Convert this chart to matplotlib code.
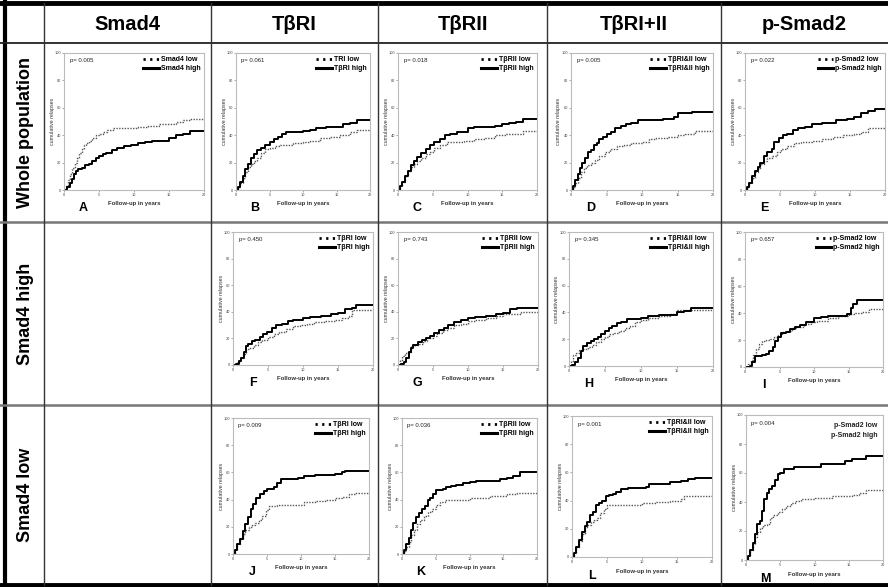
import matplotlib
matplotlib.use("Agg")
import matplotlib.pyplot as plt
from matplotlib.lines import Line2D

plt.rcParams['font.family'] = ['Liberation Sans', 'DejaVu Sans']

W, H = 888, 587

# table headers
col_headers = ["Smad4", "T\u03b2RI", "T\u03b2RII", "T\u03b2RI+II", "p-Smad2"]
row_headers = ["Whole population", "Smad4 high", "Smad4 low"]

# panel letters, p values and legend labels
letters = ["A", "B", "C", "D", "E", "F", "G", "H", "I", "J", "K", "L", "M"]
p_values = ["0.005", "0.061", "0.018", "0.005", "0.022",
            "0.450", "0.743", "0.345", "0.657",
            "0.009", "0.036", "0.001", "0.004"]
low_labels = ["Smad4 low", "TRI low", "T\u03b2RII low", "T\u03b2RI&II low", "p-Smad2 low",
              "T\u03b2RI low", "T\u03b2RII low", "T\u03b2RI&II low", "p-Smad2 low",
              "T\u03b2RI low", "T\u03b2RII low", "T\u03b2RI&II low", "p-Smad2 low"]
high_labels = ["Smad4 high", "T\u03b2RI high", "T\u03b2RII high", "T\u03b2RI&II high", "p-Smad2 high",
               "T\u03b2RI high", "T\u03b2RII high", "T\u03b2RI&II high", "p-Smad2 high",
               "T\u03b2RI high", "T\u03b2RII high", "T\u03b2RI&II high", "p-Smad2 high"]

# cumulative relapse curves (years, %)
A_low_t = [0, 0.3, 0.6, 0.9, 1.2, 1.5, 1.8, 2.1, 2.5, 2.8, 3.2, 3.6, 4.0, 4.5, 5.0, 5.6, 6.2, 7.0, 8.0, 9.5, 10.5, 12.0, 13.5, 15.0, 16.0, 17.0, 18.0, 20.0]
A_low_v = [0, 3, 7, 12, 16, 20, 23, 27, 30, 33, 34, 36, 38, 40, 41, 42, 44, 45, 45, 45, 46, 47, 48, 48, 50, 51, 52, 52]
A_high_t = [0, 0.4, 0.8, 1.1, 1.4, 1.7, 2.0, 2.5, 3.0, 3.5, 4.0, 4.5, 5.0, 5.5, 6.0, 6.8, 7.5, 8.5, 9.5, 10.5, 11.5, 12.5, 14.0, 15.0, 16.0, 17.0, 18.0, 20.0]
A_high_v = [0, 2, 5, 8, 12, 14, 15, 16, 18, 19, 21, 23, 25, 26, 27, 29, 31, 32, 33, 34, 35, 36, 36, 38, 40, 41, 43, 43]

B_low_t = [0, 0.3, 0.6, 1.0, 1.4, 1.8, 2.2, 2.7, 3.2, 3.8, 4.4, 5.0, 5.8, 6.6, 7.5, 8.5, 10, 11, 12.5, 14, 15.5, 17, 18, 20]
B_low_v = [0, 2, 5, 9, 13, 17, 19, 21, 23, 27, 30, 31, 32, 33, 33, 34, 35, 36, 38, 39, 40, 42, 44, 44]
B_high_t = [0, 0.3, 0.6, 1.0, 1.4, 1.8, 2.2, 2.7, 3.2, 3.8, 4.4, 5.0, 5.6, 6.2, 6.8, 7.5, 8.5, 10, 11, 12, 13.5, 15, 16, 17, 18, 20]
B_high_v = [0, 2, 6, 10, 15, 19, 23, 26, 29, 31, 33, 35, 37, 39, 41, 42, 42, 43, 44, 45, 46, 46, 48, 49, 51, 51]

C_low_t = [0, 0.3, 0.6, 1.0, 1.4, 1.8, 2.3, 2.8, 3.3, 4.0, 4.6, 5.2, 6.0, 7.0, 8.0, 9.5, 11, 12.5, 14, 15.5, 17, 18, 20]
C_low_v = [0, 3, 6, 10, 14, 17, 19, 21, 23, 26, 28, 31, 33, 35, 35, 36, 37, 38, 40, 41, 41, 43, 43]
C_high_t = [0, 0.3, 0.6, 1.0, 1.4, 1.8, 2.3, 2.8, 3.3, 4.0, 4.6, 5.2, 6.0, 6.8, 7.5, 8.5, 10, 11, 12.5, 14, 15, 16, 17, 18, 20]
C_high_v = [0, 3, 6, 10, 14, 18, 21, 24, 27, 30, 33, 35, 37, 40, 41, 42, 45, 46, 46, 47, 48, 49, 50, 52, 52]

D_low_t = [0, 0.3, 0.6, 1.0, 1.4, 1.8, 2.2, 2.8, 3.4, 4.0, 4.8, 5.5, 6.5, 7.5, 8.5, 10, 11, 12, 13.5, 15, 16, 17.5, 20]
D_low_v = [0, 2, 5, 9, 13, 16, 18, 20, 22, 25, 28, 30, 32, 33, 34, 35, 37, 38, 39, 40, 41, 43, 43]
D_high_t = [0, 0.3, 0.6, 1.0, 1.3, 1.6, 2.0, 2.4, 2.8, 3.2, 3.6, 4.0, 4.5, 5.0, 5.6, 6.2, 7.0, 7.8, 8.5, 9.5, 11, 13, 14.5, 15, 17, 20]
D_high_v = [0, 3, 7, 12, 16, 20, 23, 28, 29, 33, 34, 37, 39, 41, 42, 45, 47, 48, 49, 51, 51, 52, 53, 56, 57, 57]

E_low_t = [0, 0.3, 0.6, 1.0, 1.4, 1.8, 2.2, 2.7, 3.2, 3.8, 4.5, 5.2, 6.0, 7.0, 8.0, 9.5, 11, 12.5, 14, 15.5, 16.5, 17.5, 20]
E_low_v = [0, 2, 5, 9, 13, 16, 19, 21, 23, 25, 28, 30, 32, 34, 35, 36, 37, 39, 40, 41, 42, 45, 45]
E_high_t = [0, 0.3, 0.6, 1.0, 1.4, 1.8, 2.2, 2.7, 3.2, 3.8, 4.2, 4.8, 5.4, 6.0, 6.8, 7.5, 8.5, 9.5, 11, 13, 14.5, 15.5, 16.5, 17.5, 18.5, 20]
E_high_v = [0, 2, 5, 10, 14, 17, 20, 25, 28, 30, 35, 38, 40, 41, 44, 45, 46, 48, 49, 51, 52, 53, 56, 58, 59, 59]

F_low_t = [0, 0.5, 1.0, 1.4, 1.8, 2.3, 3.0, 3.6, 4.2, 5.0, 5.8, 6.5, 7.5, 8.5, 9.5, 10.5, 11.5, 13, 14.5, 15.5, 16.5, 17, 20]
F_low_v = [0, 2, 5, 8, 12, 13, 15, 17, 19, 21, 23, 25, 27, 29, 30, 31, 32, 33, 34, 35, 37, 41, 41]
F_high_t = [0, 0.4, 0.8, 1.2, 1.5, 1.8, 2.2, 2.7, 3.2, 3.8, 4.3, 4.8, 5.5, 6.2, 7.0, 7.8, 8.5, 10, 11, 12.5, 14, 15, 16, 17, 17.5, 20]
F_high_v = [0, 1, 3, 5, 10, 14, 16, 18, 19, 21, 23, 25, 28, 30, 31, 33, 34, 35, 36, 37, 38, 39, 42, 43, 45, 45]

G_low_t = [0, 0.3, 0.6, 1.0, 1.4, 1.8, 2.4, 3.0, 3.6, 4.2, 5.0, 5.6, 6.4, 7.2, 8.0, 9.0, 10, 11, 12.5, 14, 15, 16, 17.5, 20]
G_low_v = [0, 4, 7, 9, 10, 14, 15, 16, 18, 20, 22, 24, 26, 28, 30, 31, 33, 34, 35, 37, 38, 38, 40, 40]
G_high_t = [0, 0.4, 0.8, 1.2, 1.5, 1.8, 2.2, 2.8, 3.4, 4.0, 4.6, 5.2, 5.8, 6.5, 7.2, 8.0, 9.0, 10, 11, 12.5, 14, 15, 16, 17, 20]
G_high_v = [0, 1, 2, 5, 10, 13, 15, 17, 19, 20, 22, 24, 26, 28, 30, 32, 34, 35, 36, 37, 38, 39, 42, 43, 43]

H_low_t = [0, 0.3, 0.6, 1.0, 1.4, 2.0, 2.6, 3.2, 3.8, 4.4, 5.0, 5.6, 6.3, 7.0, 7.8, 8.5, 9.2, 10, 11, 12.5, 14, 15, 20]
H_low_v = [0, 4, 8, 10, 12, 13, 14, 16, 18, 20, 22, 24, 25, 26, 28, 30, 33, 34, 36, 37, 39, 42, 42]
H_high_t = [0, 0.4, 0.8, 1.2, 1.6, 2.0, 2.5, 3.0, 3.5, 4.0, 4.5, 5.0, 5.5, 6.0, 6.6, 7.2, 8.0, 9.0, 10, 11, 12.5, 14, 15, 16, 17, 20]
H_high_v = [0, 1, 3, 6, 11, 15, 17, 19, 20, 22, 24, 26, 28, 30, 32, 33, 35, 35, 36, 37, 38, 38, 40, 41, 43, 43]

I_low_t = [0, 0.4, 0.8, 1.2, 1.6, 2.0, 2.5, 3.0, 3.6, 4.2, 4.8, 5.4, 6.0, 6.8, 7.5, 8.5, 9.5, 10.5, 12, 13.5, 15, 16, 17, 18, 20]
I_low_v = [0, 2, 5, 9, 13, 17, 19, 20, 21, 22, 24, 26, 27, 29, 30, 32, 33, 34, 36, 38, 39, 40, 41, 43, 43]
I_high_t = [0, 0.7, 1.0, 1.5, 2.5, 3.0, 3.5, 4.0, 4.4, 4.8, 5.2, 6.0, 6.5, 7.2, 8.0, 8.8, 10, 11, 12, 14.8, 15.3, 15.7, 16.2, 20]
I_high_v = [0, 1, 4, 8, 9, 10, 12, 15, 19, 22, 25, 26, 28, 30, 31, 33, 36, 37, 38, 39, 44, 47, 50, 50]

J_low_t = [0, 0.3, 0.6, 1.0, 1.4, 1.8, 2.3, 2.8, 3.3, 3.8, 4.3, 4.8, 5.3, 6.5, 8.0, 9.5, 10.5, 12, 13.5, 15, 16, 17, 18, 20]
J_low_v = [0, 3, 7, 11, 15, 18, 20, 21, 23, 25, 28, 32, 35, 36, 36, 36, 38, 39, 40, 41, 42, 44, 45, 45]
J_high_t = [0, 0.3, 0.6, 1.0, 1.4, 1.8, 2.2, 2.6, 3.0, 3.4, 4.0, 4.5, 5.0, 5.6, 6.0, 6.5, 7.0, 8.0, 9.5, 10.5, 12, 14, 15, 16, 16.5, 20]
J_high_v = [0, 3, 7, 11, 17, 22, 27, 33, 37, 41, 44, 46, 48, 48, 49, 52, 55, 55, 56, 57, 58, 58, 59, 60, 61, 61]

K_low_t = [0, 0.3, 0.6, 1.0, 1.4, 1.8, 2.2, 2.7, 3.2, 3.8, 4.4, 5.0, 5.6, 6.3, 7.5, 9.0, 10, 12, 13, 14.5, 15.5, 17, 20]
K_low_v = [0, 2, 5, 9, 14, 18, 22, 25, 28, 31, 33, 36, 38, 40, 40, 40, 41, 41, 43, 43, 44, 45, 45]
K_high_t = [0, 0.3, 0.6, 1.0, 1.3, 1.7, 2.1, 2.5, 3.0, 3.4, 3.8, 4.2, 4.6, 5.0, 6.0, 6.5, 7.2, 8.0, 9.0, 10, 11, 13, 14.5, 15.5, 16.5, 17.5, 20]
K_high_v = [0, 3, 7, 12, 18, 23, 27, 30, 33, 35, 40, 41, 44, 47, 48, 49, 50, 51, 52, 53, 54, 54, 55, 56, 57, 60, 60]

L_low_t = [0, 0.3, 0.6, 1.0, 1.4, 1.8, 2.2, 2.7, 3.2, 3.6, 4.0, 4.5, 5.0, 6.0, 7.5, 9.0, 10, 12, 14, 15.5, 16, 18, 20]
L_low_v = [0, 3, 7, 11, 16, 21, 23, 25, 26, 28, 31, 34, 37, 37, 37, 37, 38, 39, 40, 41, 43, 43, 43]
L_high_t = [0, 0.3, 0.6, 1.0, 1.4, 1.8, 2.2, 2.6, 3.0, 3.4, 3.8, 4.3, 4.8, 5.3, 5.8, 6.3, 7.0, 8.0, 9.5, 10.5, 11, 12.5, 14, 15.5, 16.5, 17.5, 20]
L_high_v = [0, 3, 7, 12, 18, 22, 25, 30, 32, 37, 38, 40, 43, 44, 45, 46, 48, 49, 49, 50, 52, 52, 53, 54, 55, 56, 56]

M_low_t = [0, 0.3, 0.6, 1.0, 1.3, 1.6, 2.0, 2.5, 3.0, 3.5, 4.0, 4.6, 5.2, 5.8, 6.5, 7.2, 8.0, 9.0, 10, 11, 12.5, 14, 15.5, 16.5, 17.5, 20]
M_low_v = [0, 3, 7, 11, 16, 19, 22, 24, 25, 29, 31, 33, 35, 37, 39, 41, 42, 42, 43, 43, 44, 44, 45, 46, 48, 48]
M_high_t = [0, 0.3, 0.6, 1.0, 1.3, 1.6, 2.0, 2.3, 2.6, 3.0, 3.4, 3.8, 4.2, 4.6, 5.0, 5.5, 7.0, 8.5, 10, 11, 13, 14.5, 15.5, 17.5, 20]
M_high_v = [0, 3, 7, 12, 18, 25, 27, 34, 42, 46, 49, 51, 55, 59, 60, 63, 64, 64, 64, 66, 66, 68, 70, 72, 72]

low_curves = [(A_low_t, A_low_v), (B_low_t, B_low_v), (C_low_t, C_low_v), (D_low_t, D_low_v),
              (E_low_t, E_low_v), (F_low_t, F_low_v), (G_low_t, G_low_v), (H_low_t, H_low_v),
              (I_low_t, I_low_v), (J_low_t, J_low_v), (K_low_t, K_low_v), (L_low_t, L_low_v),
              (M_low_t, M_low_v)]
high_curves = [(A_high_t, A_high_v), (B_high_t, B_high_v), (C_high_t, C_high_v), (D_high_t, D_high_v),
               (E_high_t, E_high_v), (F_high_t, F_high_v), (G_high_t, G_high_v), (H_high_t, H_high_v),
               (I_high_t, I_high_v), (J_high_t, J_high_v), (K_high_t, K_high_v), (L_high_t, L_high_v),
               (M_high_t, M_high_v)]

# layout in pixels
col_x = [44, 211, 378, 547, 721]
row_y = [43, 222, 405]
# (left, right, top, bottom) of each plot
boxes = [(64, 204, 53, 190), (236, 370, 53, 190), (398, 537, 53, 190), (571, 713, 53, 190), (745, 885, 53, 190),
         (233, 373, 232, 365), (398, 538, 232, 365), (569, 713, 232, 366), (745, 883, 232, 367),
         (233, 369, 418, 554), (402, 537, 418, 554), (572, 712, 416, 557), (746, 883, 415, 560)]


def fx(x):
    return x / W


def fy(y):
    return 1 - y / H


fig = plt.figure(figsize=(W / 100, H / 100), dpi=100)

# table lines
fig.add_artist(Line2D([0, 1], [fy(3), fy(3)], color="black", lw=3.5))
fig.add_artist(Line2D([fx(5), fx(5)], [fy(2), fy(586)], color="black", lw=3))
fig.add_artist(Line2D([0, 1], [fy(585), fy(585)], color="black", lw=3.5))
fig.add_artist(Line2D([0, 1], [fy(row_y[0]), fy(row_y[0])], color="#222222", lw=1.3))
for y in row_y[1:]:
    fig.add_artist(Line2D([0, 1], [fy(y), fy(y)], color="#777777", lw=1.8))
for x in col_x:
    fig.add_artist(Line2D([fx(x), fx(x)], [fy(3), fy(585)], color="#333333", lw=1.0))

# column and row headers
col_edges = col_x + [W]
for i, name in enumerate(col_headers):
    xc = (col_edges[i] + col_edges[i + 1]) / 2
    fig.text(fx(xc), fy(24), name, ha="center", va="center", fontsize=14.5, weight="bold")
row_edges = row_y + [585]
for i, name in enumerate(row_headers):
    yc = (row_edges[i] + row_edges[i + 1]) / 2
    fig.text(fx(26), fy(yc), name, ha="center", va="center", rotation=90, fontsize=13, weight="bold")

low_handle = Line2D([], [], color="black", lw=2.0, ls=(0, (0.8, 1.6)))
high_handle = Line2D([], [], color="black", lw=2.2)

for k in range(13):
    l, r, t, b = boxes[k]
    ax = fig.add_axes([fx(l), fy(b), (r - l) / W, (b - t) / H])
    lt, lv = low_curves[k]
    ht, hv = high_curves[k]
    ax.step(lt, lv, where="post", color="#555555", lw=1.0, ls=(0, (1, 1)))
    ax.step(ht, hv, where="post", color="black", lw=1.4)
    ax.set_xlim(0, 20)
    ax.set_ylim(0, 100)
    ax.set_xticks([0, 5, 10, 15, 20])
    ax.set_yticks([0, 20, 40, 60, 80, 100])
    ax.tick_params(length=1.5, width=0.5, color="#888888", labelsize=2.8, pad=0.8, labelcolor="#444444")
    for s in ax.spines.values():
        s.set_color("#bbbbbb")
        s.set_linewidth(0.8)

    ax.text(0.04, 0.96, "p= " + p_values[k], transform=ax.transAxes, fontsize=4.3,
            va="top", ha="left", color="#222222")
    if letters[k] == "M":
        ax.text(0.96, 0.95, low_labels[k] + "\n" + high_labels[k], transform=ax.transAxes,
                fontsize=5, weight="bold", va="top", ha="right", linespacing=1.6, color="#222222")
    else:
        ax.legend([low_handle, high_handle], [low_labels[k], high_labels[k]], loc="upper right",
                  frameon=False, prop={"size": 5, "weight": "bold"}, handlelength=2.2,
                  handletextpad=0.3, borderaxespad=0.3, labelspacing=0.25, borderpad=0.2)

    ax.text(-0.085, 0.5, "cumulative relapses", transform=ax.transAxes, rotation=90,
            fontsize=3.8, va="center", ha="center", color="#333333")
    ax.text(0.5, -0.1, "Follow-up in years", transform=ax.transAxes, fontsize=4.3,
            weight="bold", va="center", ha="center", color="#333333")
    ax.text(0.14, -0.09, letters[k], transform=ax.transAxes, fontsize=9, weight="bold",
            va="top", ha="center")

fig.savefig("out.png", dpi=100)
